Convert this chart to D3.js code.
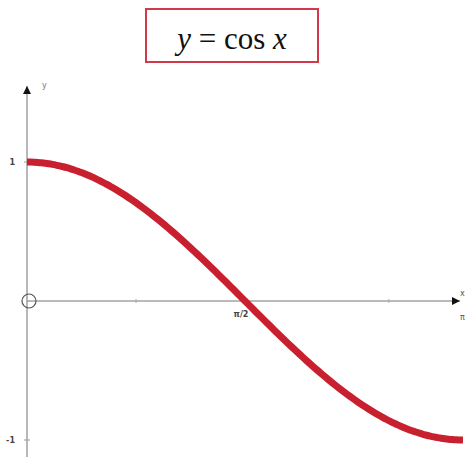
<!DOCTYPE html>
<html>
<head>
<meta charset="utf-8">
<script src="https://cdnjs.cloudflare.com/ajax/libs/d3/7.8.5/d3.min.js"></script>
<style>
  body { margin: 0; background: #fff; }
  svg { display: block; }
</style>
</head>
<body>
<script>
var w = 465;
var h = 457;

// sample points of the curve y = cos x, x from 0 to pi
var xSamples = d3.range(0, 121).map(function(i) { return i * Math.PI / 120; });
var yTickValues = [1, -1];
var yTickLabels = ["1", "-1"];
var xTickValues = [Math.PI / 4, Math.PI / 2, 0.83 * Math.PI];
var xTickLabels = ["", "π/2", ""];

var svg = d3.select("body").append("svg")
    .attr("width", w)
    .attr("height", h);

// scales
var x = d3.scaleLinear().domain([0, Math.PI]).range([27, 463]);
var y = d3.scaleLinear().domain([-1, 1]).range([440, 162]);

// title box
svg.append("rect")
    .attr("x", 146).attr("y", 9)
    .attr("width", 172).attr("height", 53)
    .attr("fill", "#fff")
    .attr("stroke", "#d23a4c")
    .attr("stroke-width", 2);

var title = svg.append("text")
    .attr("x", 232).attr("y", 49)
    .attr("text-anchor", "middle")
    .attr("font-family", "Liberation Serif, DejaVu Serif, serif")
    .attr("font-size", 31)
    .attr("fill", "#111");
title.append("tspan").attr("font-style", "italic").text("y");
title.append("tspan").text(" = cos ");
title.append("tspan").attr("font-style", "italic").text("x");

// arrow marker
svg.append("defs").append("marker")
    .attr("id", "arrow")
    .attr("viewBox", "0 0 10 10")
    .attr("refX", 10).attr("refY", 5)
    .attr("markerWidth", 10).attr("markerHeight", 8)
    .attr("markerUnits", "userSpaceOnUse")
    .attr("orient", "auto")
  .append("path")
    .attr("d", "M0,0L10,5L0,10Z")
    .attr("fill", "#111");

// x axis
svg.append("line")
    .attr("x1", x(0)).attr("x2", 460)
    .attr("y1", y(0)).attr("y2", y(0))
    .attr("stroke", "#777").attr("stroke-width", 1.2)
    .attr("marker-end", "url(#arrow)");

// y axis
svg.append("line")
    .attr("x1", x(0)).attr("x2", x(0))
    .attr("y1", 457).attr("y2", 86)
    .attr("stroke", "#888").attr("stroke-width", 1.2)
    .attr("marker-end", "url(#arrow)");

// x ticks
svg.selectAll(".xt").data(xTickValues).enter().append("line")
    .attr("x1", function(d) { return x(d); })
    .attr("x2", function(d) { return x(d); })
    .attr("y1", y(0) - 2).attr("y2", y(0) + 2)
    .attr("stroke", "#aaa");

svg.selectAll(".xl").data(xTickValues).enter().append("text")
    .attr("x", function(d) { return x(d) - 4; })
    .attr("y", y(0) + 16)
    .attr("text-anchor", "middle")
    .attr("font-family", "DejaVu Sans, sans-serif")
    .attr("font-size", 8)
    .attr("font-weight", "bold")
    .attr("fill", "#444")
    .text(function(d, i) { return xTickLabels[i]; });

// y ticks
svg.selectAll(".yt").data(yTickValues).enter().append("line")
    .attr("x1", x(0) - 3).attr("x2", x(0) + 3)
    .attr("y1", function(d) { return y(d); })
    .attr("y2", function(d) { return y(d); })
    .attr("stroke", "#999");

svg.selectAll(".yl").data(yTickValues).enter().append("text")
    .attr("x", x(0) - 12)
    .attr("y", function(d) { return y(d) + 3; })
    .attr("text-anchor", "end")
    .attr("font-family", "DejaVu Sans, sans-serif")
    .attr("font-size", 8)
    .attr("font-weight", "bold")
    .attr("fill", "#444")
    .text(function(d, i) { return yTickLabels[i]; });

// origin circle
svg.append("circle")
    .attr("cx", x(0) + 2).attr("cy", y(0))
    .attr("r", 7)
    .attr("fill", "none")
    .attr("stroke", "#555")
    .attr("stroke-width", 1.2);

// axis labels
svg.append("text")
    .attr("x", 42).attr("y", 88)
    .attr("font-family", "DejaVu Sans, sans-serif")
    .attr("font-size", 8).attr("fill", "#777")
    .text("y");
svg.append("text")
    .attr("x", 460).attr("y", 296)
    .attr("font-family", "DejaVu Sans, sans-serif")
    .attr("font-size", 8).attr("fill", "#555")
    .text("x");
svg.append("text")
    .attr("x", 460).attr("y", 320)
    .attr("font-family", "DejaVu Sans, sans-serif")
    .attr("font-size", 8).attr("fill", "#555")
    .text("π");

// the curve
var line = d3.line()
    .x(function(d) { return x(d); })
    .y(function(d) { return y(Math.cos(d)); })
    .curve(d3.curveBasis);

svg.append("path")
    .datum(xSamples)
    .attr("d", line)
    .attr("fill", "none")
    .attr("stroke", "#c8202f")
    .attr("stroke-width", 7);
</script>
</body>
</html>
